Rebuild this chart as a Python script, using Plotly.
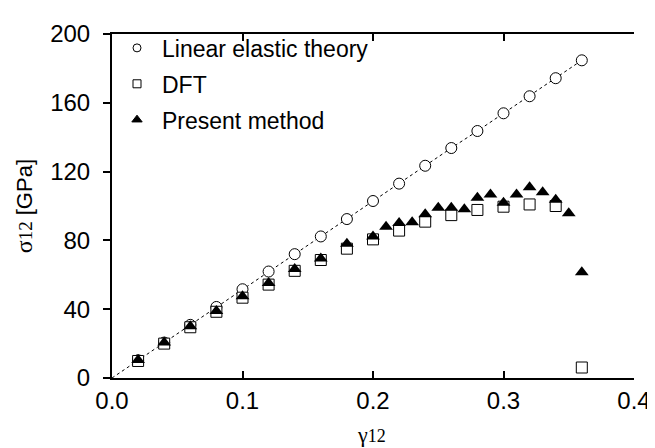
import plotly.graph_objects as go

# shear strain values
strain_even = [0.02, 0.04, 0.06, 0.08, 0.10, 0.12, 0.14, 0.16, 0.18,
               0.20, 0.22, 0.24, 0.26, 0.28, 0.30, 0.32, 0.34, 0.36]
linear_elastic = [10.3, 20.6, 30.9, 41.3, 51.6, 61.9, 72.0, 82.3, 92.4,
                  102.9, 113.0, 123.4, 133.7, 143.6, 153.9, 163.8, 174.3, 184.7]
dft = [9.9, 20.0, 29.5, 38.5, 46.7, 54.3, 62.3, 68.6, 75.2,
       80.6, 85.7, 90.9, 94.7, 97.7, 99.6, 100.9, 100.0, 6.1]

strain_present = [0.02, 0.04, 0.06, 0.08, 0.10, 0.12, 0.14, 0.16, 0.18, 0.20,
                  0.21, 0.22, 0.23, 0.24, 0.25, 0.26, 0.27, 0.28, 0.29, 0.30,
                  0.31, 0.32, 0.33, 0.34, 0.35, 0.36]
present = [10.5, 20.6, 30.1, 39.0, 47.6, 55.2, 63.4, 69.5, 78.1, 82.3,
           88.0, 90.1, 90.5, 95.2, 99.0, 99.0, 98.1, 104.8, 106.7, 101.9,
           106.7, 110.9, 108.0, 103.6, 95.8, 61.5]

names = ["Linear elastic theory", "DFT", "Present method"]
x_ticks = [0.0, 0.1, 0.2, 0.3, 0.4]
y_ticks = [0, 40, 80, 120, 160, 200]

SANS = "Liberation Sans, Arial, sans-serif"
SERIF = "Liberation Serif, Times New Roman, serif"

fig = go.Figure()

# dotted theory line through origin
fig.add_trace(go.Scatter(x=[0.0] + strain_even, y=[0.0] + linear_elastic, mode="lines",
                         line=dict(color="black", width=1, dash="dot"),
                         showlegend=False, hoverinfo="skip"))
fig.add_trace(go.Scatter(x=strain_even, y=linear_elastic, mode="markers",
                         marker=dict(symbol="circle", size=11, color="white",
                                     line=dict(color="black", width=1)),
                         showlegend=False))
fig.add_trace(go.Scatter(x=strain_even, y=dft, mode="markers",
                         marker=dict(symbol="square", size=11, color="white",
                                     line=dict(color="black", width=1)),
                         showlegend=False))
fig.add_trace(go.Scatter(x=strain_present, y=present, mode="markers",
                         marker=dict(symbol="triangle-up", size=12, color="black",
                                     line=dict(color="black", width=0)),
                         showlegend=False))

# legend entries
leg_syms = ["circle-open", "square-open", "triangle-up"]
leg_sizes = [8, 8, 9]
for i, (nm, sym, sz) in enumerate(zip(names, leg_syms, leg_sizes)):
    fig.add_trace(go.Scatter(x=[None], y=[None], mode="markers", name=nm,
                             legendgroup="g%d" % i,
                             marker=dict(symbol=sym, size=sz, color="black",
                                         line=dict(color="black", width=1))))

fig.update_layout(
    width=655, height=448,
    margin=dict(l=104, r=23, t=20, b=78),
    paper_bgcolor="white", plot_bgcolor="white",
    font=dict(family=SANS, size=24, color="black"),
    showlegend=True,
    legend=dict(x=0.0, y=1.022, xanchor="left", yanchor="top",
                bgcolor="rgba(0,0,0,0)", font=dict(family=SANS, size=23),
                tracegroupgap=3, itemwidth=40),
    xaxis=dict(range=[0, 0.4], tickvals=x_ticks, ticktext=["%.1f" % v for v in x_ticks],
               ticks="inside", ticklen=7, tickwidth=2, tickcolor="black",
               showline=True, linecolor="black", linewidth=2, mirror="ticks",
               showgrid=False, zeroline=False, tickfont=dict(size=24)),
    yaxis=dict(range=[0, 200], tickvals=y_ticks,
               ticks="outside", ticklen=7, tickwidth=2, tickcolor="black",
               ticklabelstandoff=8,
               showline=True, linecolor="black", linewidth=2,
               showgrid=False, zeroline=False, tickfont=dict(size=24)),
    yaxis2=dict(range=[0, 200], tickvals=y_ticks, overlaying="y", side="right",
                ticks="inside", ticklen=7, tickwidth=2, tickcolor="black",
                showline=True, linecolor="black", linewidth=2,
                showticklabels=False, showgrid=False, zeroline=False),
)

fig.add_annotation(xref="paper", yref="paper", x=-0.168, y=0.50,
                   xanchor="center", yanchor="middle", textangle=-90, showarrow=False,
                   text="<span style='font-family:%s;font-size:24px'>σ</span>"
                        "<span style='font-family:%s;font-size:19px'>12</span>"
                        "<span style='font-family:%s;font-size:22px'> [GPa]</span>" % (SERIF, SERIF, SANS))
fig.add_annotation(xref="paper", yref="paper", x=0.498, y=-0.165,
                   xanchor="center", yanchor="middle", showarrow=False,
                   text="<span style='font-family:%s;font-size:22px'>γ</span>"
                        "<span style='font-family:%s;font-size:18px'>12</span>" % (SERIF, SERIF))

fig.write_html("out.html")
